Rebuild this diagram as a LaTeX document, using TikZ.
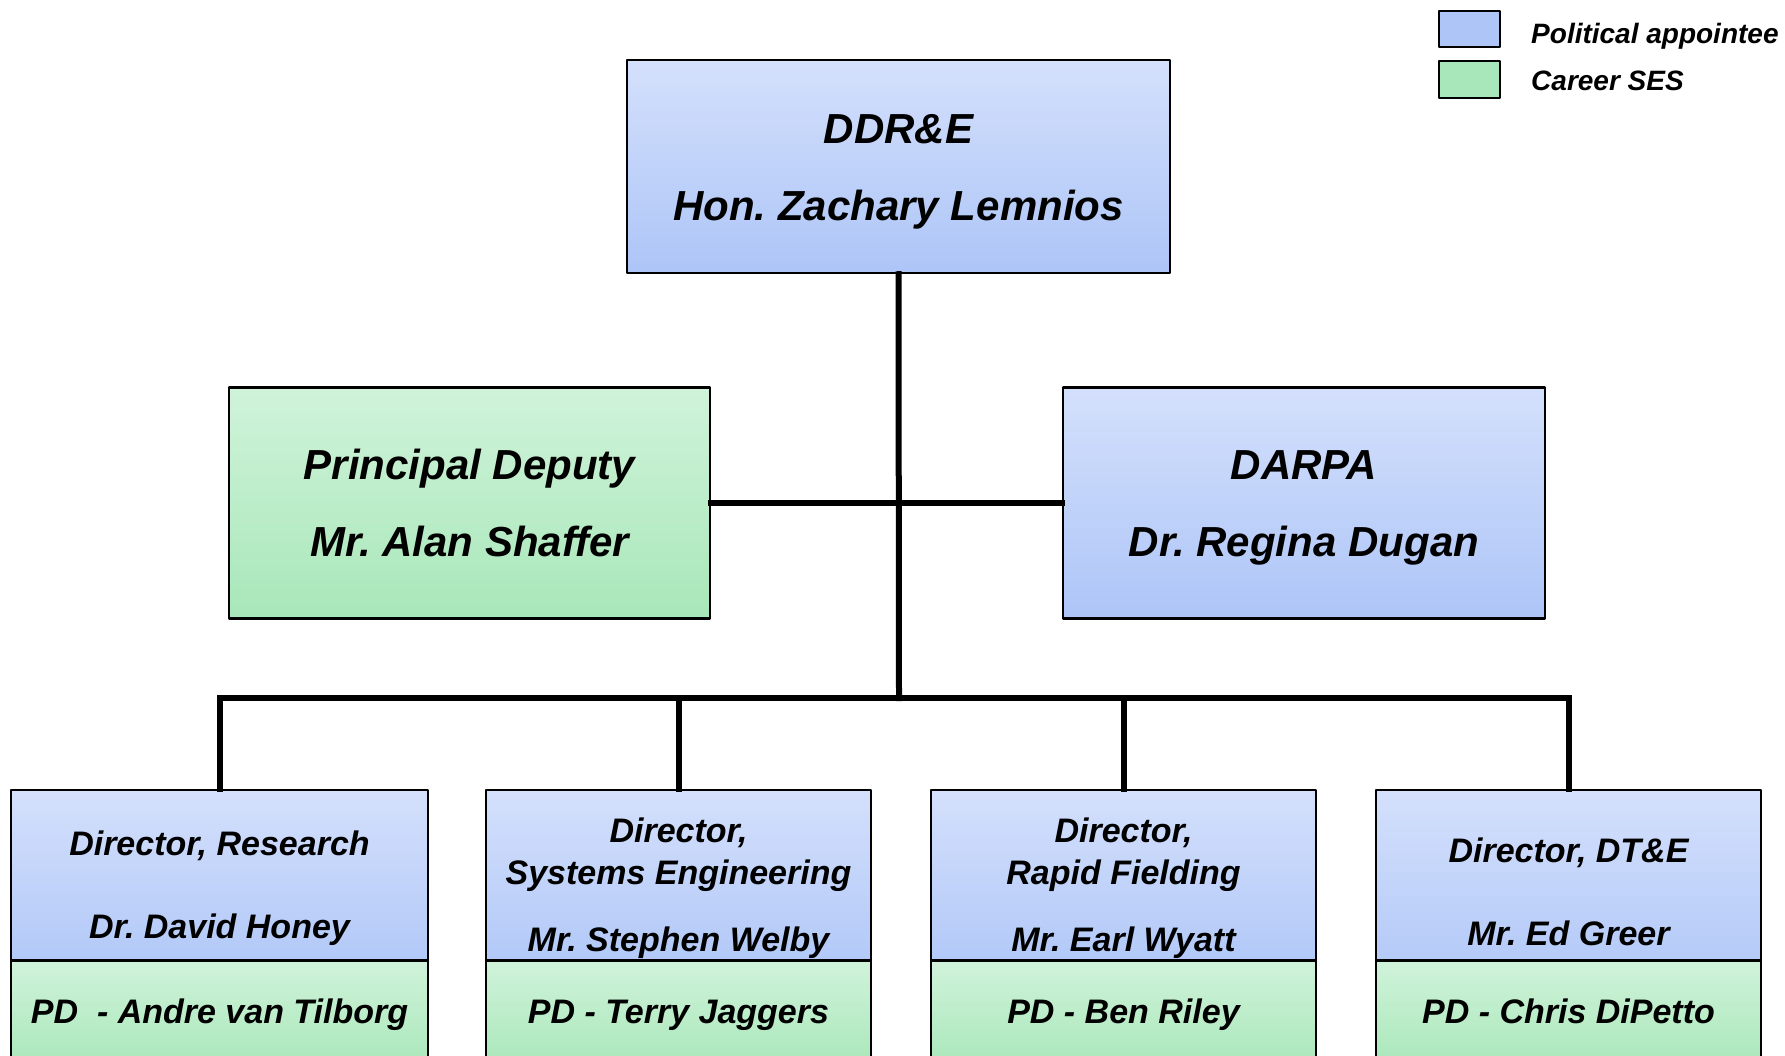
\documentclass[tikz,border=0pt]{standalone}
\usepackage{fontspec}
\setmainfont{Liberation Sans}
\frenchspacing
\definecolor{poltop}{HTML}{D4E0FC}
\definecolor{polbot}{HTML}{ADC5F7}
\definecolor{sestop}{HTML}{D0F3DA}
\definecolor{sesbot}{HTML}{A8E7B9}
\begin{document}
\begin{tikzpicture}[x=1pt, y=-1pt, line join=round, font=\bfseries\itshape,
  pol/.style={draw, line width=2.5pt, top color=poltop, bottom color=polbot, align=center, inner sep=0pt},
  ses/.style={draw, line width=2.5pt, top color=sestop, bottom color=sesbot, align=center, inner sep=0pt},
  big/.style={font=\fontsize{42}{77}\selectfont\bfseries\itshape},
  small/.style={font=\fontsize{34}{42}\selectfont\bfseries\itshape},
  keytxt/.style={anchor=base west, inner sep=0pt, font=\fontsize{28}{30}\selectfont\bfseries\itshape},
  wire/.style={line width=6pt, line cap=rect}]
\useasboundingbox (0,0) rectangle (1785,1056);
\clip (0,0) rectangle (1785,1056);
% legend
\node[draw, line width=2.5pt, fill=polbot, minimum width=61pt, minimum height=36pt] (keypol) at (1469.5,29) {};
\node[draw, line width=2.5pt, fill=sesbot, minimum width=61pt, minimum height=37pt] (keyses) at (1469.5,79.5) {};
\node[keytxt] (keypoltxt) at (1531,44) {Political appointee};
\node[keytxt] (keysestxt) at (1531,91) {Career SES};
% top rows
\node[pol, big, minimum width=543pt, minimum height=213pt] (ddre) at (898.5,166.5) {\strut DDR\&E\\\strut Hon. Zachary Lemnios};
\node[ses, big, minimum width=481pt, minimum height=231pt] (pd) at (469.5,503) {\strut Principal Deputy\\\strut Mr. Alan Shaffer};
\node[pol, big, minimum width=482pt, minimum height=231pt] (darpa) at (1304,503) {\strut DARPA\\\strut Dr. Regina Dugan};
% directors (blue), their PDs (green) drawn over the lower part
\node[pol, small, minimum width=417pt, minimum height=198pt] (res) at (219.5,889) {\strut Director, Research\\[41pt]\strut Dr. David Honey};
\node[pol, small, minimum width=385pt, minimum height=198pt] (se) at (678.5,889) {\strut Director,\\\strut Systems Engineering\\[25pt]\strut Mr. Stephen Welby};
\node[pol, small, minimum width=385pt, minimum height=198pt] (rf) at (1123.5,889) {\strut Director,\\\strut Rapid Fielding\\[25pt]\strut Mr. Earl Wyatt};
\node[pol, small, minimum width=385pt, minimum height=212pt] (dte) at (1568.5,896) {\strut Director, DT\&E\\[41pt]\strut Mr. Ed Greer};
\node[ses, small, anchor=north, minimum width=417pt, minimum height=110pt] (respd) at (219.5,959) {\strut PD\ \ - Andre van Tilborg};
\node[ses, small, anchor=north, minimum width=385pt, minimum height=110pt] (sepd) at (678.5,959) {\strut PD - Terry Jaggers};
\node[ses, small, anchor=north, minimum width=385pt, minimum height=110pt] (rfpd) at (1123.5,959) {\strut PD - Ben Riley};
\node[ses, small, anchor=north, minimum width=385pt, minimum height=110pt] (dtepd) at (1568.5,959) {\strut PD - Chris DiPetto};
% connectors
\coordinate (bus) at (899,698);
\draw[wire] (ddre.south) -- (bus);
\draw[wire] (pd.east) -- (darpa.west);
\draw[wire] (res.north |- bus) -- (dte.north |- bus);
\foreach \n in {res,se,rf,dte}
\draw[wire] (\n.north |- bus) -- (\n.north);
\end{tikzpicture}
\end{document}
